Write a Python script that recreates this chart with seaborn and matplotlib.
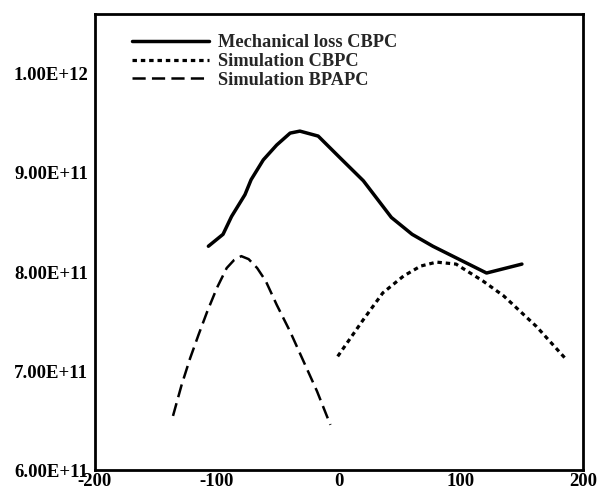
import matplotlib
matplotlib.use('Agg')

import matplotlib.pyplot as plt
import seaborn as sns
import pandas as pd

# values (x, y in units of 1E11)
mech_x = [-107, -95, -88, -77, -72, -62, -51, -40, -32, -17, 1, 20, 43, 60, 77, 121, 150]
mech_y = [8.26, 8.38, 8.56, 8.78, 8.93, 9.13, 9.28, 9.40, 9.42, 9.37, 9.15, 8.92, 8.55, 8.38, 8.26, 7.99, 8.08]

cbpc_x = [-1, 20, 36, 53, 67, 80, 96, 118, 135, 162, 187]
cbpc_y = [7.15, 7.52, 7.79, 7.96, 8.06, 8.10, 8.08, 7.91, 7.76, 7.45, 7.11]

bpapc_x = [-136, -129, -122, -115, -108, -100, -92, -86, -80, -74, -67, -60, -51, -40, -29, -18, -7]
bpapc_y = [6.55, 6.86, 7.13, 7.37, 7.60, 7.84, 8.04, 8.12, 8.16, 8.13, 8.04, 7.91, 7.67, 7.40, 7.10, 6.80, 6.46]

labels = ['Mechanical loss CBPC', 'Simulation CBPC', 'Simulation BPAPC']
ytick_vals = [6e11, 7e11, 8e11, 9e11, 1e12]
ytick_labels = ['6.00E+11', '7.00E+11', '8.00E+11', '9.00E+11', '1.00E+12']
xtick_vals = [-200, -100, 0, 100, 200]

sns.set_style('white')
plt.rcParams['font.family'] = ['Liberation Serif', 'DejaVu Serif']
plt.rcParams['font.weight'] = 'bold'
plt.rcParams['lines.scale_dashes'] = False

fig = plt.figure(figsize=(5.97, 4.92), dpi=100)
ax = fig.add_axes([0.159, 0.0437, 0.8174, 0.9278])

df_m = pd.DataFrame({'x': mech_x, 'y': [v * 1e11 for v in mech_y]})
df_c = pd.DataFrame({'x': cbpc_x, 'y': [v * 1e11 for v in cbpc_y]})
df_b = pd.DataFrame({'x': bpapc_x, 'y': [v * 1e11 for v in bpapc_y]})

sns.lineplot(data=df_m, x='x', y='y', ax=ax, color='black', lw=2.5, label=labels[0])
sns.lineplot(data=df_c, x='x', y='y', ax=ax, color='black', lw=2.3, label=labels[1],
             linestyle=(0, (3.2, 2.8)))
sns.lineplot(data=df_b, x='x', y='y', ax=ax, color='black', lw=1.8, label=labels[2],
             linestyle=(0, (9.5, 4.5)))

ax.set_xlim(-200, 200)
ax.set_ylim(6e11, 1.06e12)
ax.set_xticks(xtick_vals)
ax.set_xticklabels([str(v) for v in xtick_vals])
ax.set_yticks(ytick_vals)
ax.set_yticklabels(ytick_labels)
ax.set_xlabel('')
ax.set_ylabel('')

for s in ax.spines.values():
    s.set_linewidth(2.0)
    s.set_color('black')
ax.tick_params(axis='both', direction='in', colors='black', labelsize=13.5, width=1.8)
ax.tick_params(axis='y', length=6, pad=5)
ax.tick_params(axis='x', length=7, pad=1.5)

leg = ax.legend(loc='upper left', bbox_to_anchor=(0.06, 0.972), frameon=False,
                fontsize=13.2, handlelength=4.2, handletextpad=0.5, labelspacing=0.1,
                borderaxespad=0)

fig.savefig('out.png', dpi=100)
